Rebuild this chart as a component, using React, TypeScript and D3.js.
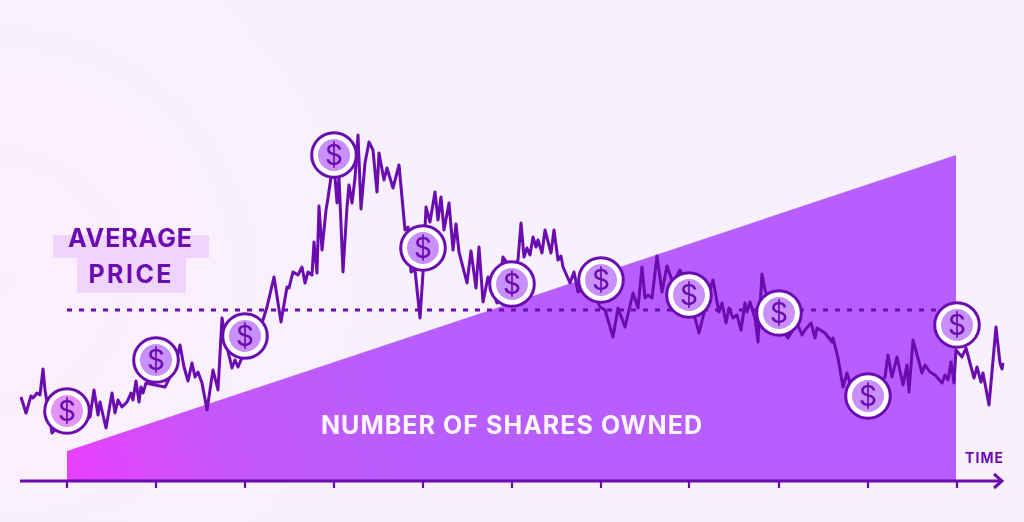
import React from "react";
import * as d3 from "d3";

const priceDays = [-46,-41,-36,-34,-30,-27,-24,-22,-17,-15,-7,3,13,23,27,31,33,39,45,48,51,55,60,64,66,69,72,74,76,79,88,98,103,108,113,117,121,125,128,131,135,140,146,151,155,160,165,168,171,174,183,191,196,200,207,214,220,222,226,231,235,238,241,245,247,250,252,255,259,261,264,268,270,272,276,280,282,285,288,291,294,298,302,306,310,312,317,320,326,332,338,341,344,348,353,356,359,363,368,371,374,377,382,386,389,392,400,404,409,412,416,421,430,436,445,451,454,457,460,463,466,469,471,475,478,484,487,491,494,496,503,507,511,523,533,538,546,551,558,566,571,575,578,581,585,590,595,600,606,613,621,628,632,636,646,652,655,659,662,666,670,674,678,680,683,688,691,695,698,708,721,730,735,738,744,748,750,758,765,766,771,776,780,783,801,818,821,825,830,836,840,842,846,852,855,858,863,868,875,878,881,884,887,889,895,899,903,907,910,914,916,922,929,933,935,936];
const priceValues = [84,68,85,83,88,86,112,91,61,48,56,66,61,64,91,66,79,53,88,68,81,74,79,88,81,100,79,94,88,98,96,94,104,114,136,114,100,118,104,109,98,71,111,91,163,134,113,121,114,121,136,151,161,174,204,159,194,193,209,206,214,198,209,206,239,208,275,231,271,283,304,304,278,304,209,274,296,278,303,346,272,318,339,331,289,328,301,313,293,316,251,254,209,211,163,208,274,259,289,261,284,251,278,231,257,229,198,230,193,234,179,204,178,224,211,221,258,224,233,226,244,234,241,228,251,228,251,221,225,214,198,209,189,196,174,171,144,173,154,188,173,214,183,186,183,225,189,215,198,211,191,163,148,164,201,169,178,158,173,163,166,151,178,169,179,163,139,207,191,161,143,158,146,151,158,143,153,148,139,143,123,94,108,98,86,104,126,104,124,96,116,89,141,119,108,116,109,106,98,106,101,119,98,131,124,133,118,103,114,99,108,76,154,118,112,118];
const purchaseDays = [0,89,178,267,356,445,534,622,712,801,890];
const purchasePrices = [70,121,145,326,233,197,201,186,168,85,156];
const sharesDays = [0,889];
const sharesOwned = [30,326];
const averagePrice = 171;
const labelLines = ["AVERAGE", "PRICE"];
const labelWidths = [124, 83];
const sharesLabel = "NUMBER OF SHARES OWNED";
const timeLabel = "TIME";

const W = 1024, H = 522;
const x = d3.scaleLinear().domain([0, 889]).range([67, 956]);
const y = d3.scaleLinear().domain([0, 481]).range([481, 0]);
const INK = "#6b0cb0";
const FONT = "'Inter','Noto Sans',sans-serif";

export default function App() {
  const line = d3.line<number>().x((d) => x(d)).y((_, i) => y(priceValues[i])).curve(d3.curveLinear);
  const area = d3.area<number>().x((d) => x(d)).y0(y(0)).y1((_, i) => y(sharesOwned[i]));
  return (
    <svg width={W} height={H} viewBox={`0 0 ${W} ${H}`} style={{ position: "fixed", left: 0, top: 0, display: "block" }}>
      <defs>
        <radialGradient id="bg" gradientUnits="userSpaceOnUse" cx={0} cy={280} r={360}>
          <stop offset="0" stopColor="#fdeefd" />
          <stop offset="1" stopColor="#f7f1fe" />
        </radialGradient>
        <linearGradient id="shares" gradientUnits="userSpaceOnUse" x1={67} y1={481} x2={400} y2={360}>
          <stop offset="0" stopColor="#ea3ffb" />
          <stop offset="0.45" stopColor="#c557fb" />
          <stop offset="1" stopColor="#b85efe" />
        </linearGradient>
      </defs>
      <rect width={W} height={H} fill="url(#bg)" />
      <rect x={53} y={235} width={156} height={23} fill="#efd5fc" />
      <rect x={77} y={258} width={109} height={35} fill="#efd5fc" />
      {labelLines.map((t, i) => (
        <text key={t} x={130} y={247 + i * 36} fontFamily={FONT} fontSize={25} fontWeight={700} fill={INK} textAnchor="middle" textLength={labelWidths[i]} lengthAdjust="spacing">{t}</text>
      ))}
      <path d={area(sharesDays) ?? ""} fill="url(#shares)" />
      <text x={511.5} y={434} fontFamily={FONT} fontSize={25} fontWeight={700} fill="#fdf6ff" textAnchor="middle" textLength={381} lengthAdjust="spacing">{sharesLabel}</text>
      <line x1={x(0)} x2={x(889)} y1={y(averagePrice)} y2={y(averagePrice)} stroke={INK} strokeWidth={2.8} strokeDasharray="5 7" />
      <path d={line(priceDays) ?? ""} fill="none" stroke={INK} strokeWidth={3} strokeLinejoin="round" />
      <line x1={20} x2={1002} y1={y(0)} y2={y(0)} stroke={INK} strokeWidth={3} />
      <path d={`M${994},${y(0) - 7}L${1002},${y(0)}L${994},${y(0) + 7}`} fill="none" stroke={INK} strokeWidth={3} />
      {purchaseDays.map((d) => (
        <line key={d} x1={x(d)} x2={x(d)} y1={y(0)} y2={y(0) + 7} stroke={INK} strokeWidth={2.2} />
      ))}
      <text x={984} y={463} fontFamily={FONT} fontSize={14} fontWeight={700} fill={INK} textAnchor="middle" textLength={38} lengthAdjust="spacing">{timeLabel}</text>
      {purchaseDays.map((d, i) => (
        <g key={d} transform={`translate(${x(d)},${y(purchasePrices[i])})`}>
          <circle r={22.3} fill="#fff" stroke={INK} strokeWidth={3} />
          <circle r={16} fill={i === 0 ? "#e295f6" : "#c98ffa"} />
          <text y={10} textAnchor="middle" fontFamily={FONT} fontSize={28} fontWeight={400} fill={INK}>$</text>
        </g>
      ))}
    </svg>
  );
}
